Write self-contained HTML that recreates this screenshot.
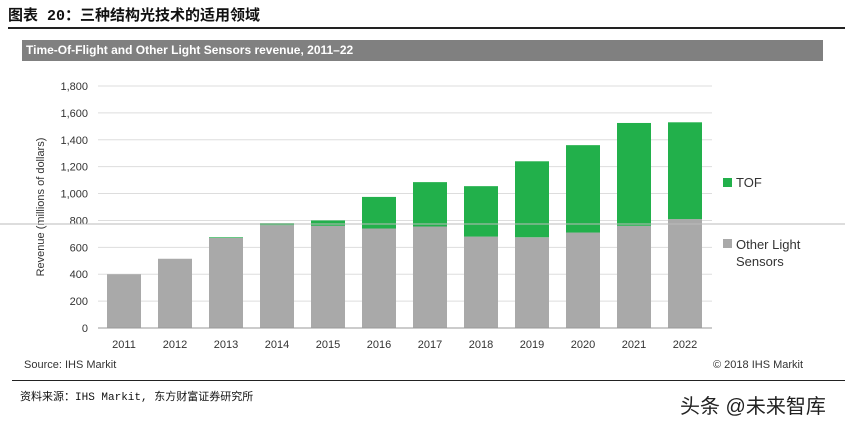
<!DOCTYPE html>
<html><head><meta charset="utf-8"><style>
body{margin:0;width:845px;height:424px;background:#fff;overflow:hidden;position:relative;font-family:"Liberation Sans","Noto Sans CJK SC",sans-serif}
.a{position:absolute}
</style></head><body>
<div class="a" style="left:8px;top:4px;font-size:15px;font-weight:bold;color:#111;font-family:'Liberation Mono','Noto Sans CJK SC',monospace">图表 20：三种结构光技术的适用领域</div>
<div class="a" style="left:8px;top:27px;width:837px;height:2px;background:#222"></div>
<div class="a" style="left:22px;top:40px;width:801px;height:21px;background:#808080;color:#fff;font-size:12px;font-weight:bold;line-height:21px;padding-left:4px;box-sizing:border-box">Time-Of-Flight and Other Light Sensors revenue, 2011–22</div>
<svg class="a" style="left:0;top:0" width="845" height="424">
<g id="g"></g>
</svg>
<div class="a" style="left:24px;top:359px;font-size:11px;color:#333">Source: IHS Markit</div>
<div class="a" style="left:713px;top:359px;font-size:11px;color:#333">© 2018 IHS Markit</div>
<div class="a" style="left:12px;top:380px;width:833px;height:1px;background:#222"></div>
<div class="a" style="left:20px;top:388px;font-size:11px;color:#111;font-family:'Liberation Mono','Noto Sans CJK SC',monospace">资料来源：IHS Markit, 东方财富证券研究所</div>
<div class="a" style="left:680px;top:390px;font-size:20px;color:#222">头条 @未来智库</div>
<script>
const years=["2011","2012","2013","2014","2015","2016","2017","2018","2019","2020","2021","2022"];
const other=[400,515,670,765,760,740,755,680,675,710,760,810];
const tof=[0,0,5,15,40,235,330,375,565,650,765,720];
const ticks=[0,200,400,600,800,1000,1200,1400,1600,1800];
const NS="http://www.w3.org/2000/svg";
const g=document.getElementById('g');
const y=v=>328-v*(242/1800);
const x=i=>124+i*51;
function mk(t,a,txt){const e=document.createElementNS(NS,t);for(const k in a)e.setAttribute(k,a[k]);if(txt!==undefined)e.textContent=txt;g.appendChild(e);return e;}
ticks.forEach(t=>{
 const l=mk('line',{x1:98,x2:712,y1:y(t),y2:y(t),stroke:'#ddd','stroke-width':1});
 
 
 const tx=mk('text',{x:88,y:y(t)+4,'text-anchor':'end','font-size':11,fill:'#333'},t.toLocaleString('en-US'));
 
 
});
const yt=mk('text',{transform:'translate(44,207) rotate(-90)','text-anchor':'middle','font-size':11,fill:'#333'},'Revenue (millions of dollars)');


years.forEach((yr,i)=>{
 const b=mk('rect',{x:x(i)-17,y:y(other[i]),width:34,height:y(0)-y(other[i]),fill:'#a9a9a9'});
 
 
 if(tof[i]>0){const t=mk('rect',{x:x(i)-17,y:y(other[i]+tof[i]),width:34,height:y(other[i])-y(other[i]+tof[i]),fill:'#22b04b'});
 
 }
 const l=mk('text',{x:x(i),y:348,'text-anchor':'middle','font-size':11,fill:'#333'},yr);
 
 
});
const ax=mk('line',{x1:98,x2:712,y1:328,y2:328,stroke:'#999'});


const hl=mk('line',{x1:0,x2:845,y1:224,y2:224,stroke:'#bbb'});


const s1=mk('rect',{x:723,y:178,width:9,height:9,fill:'#22b04b'});


const t1=mk('text',{x:736,y:187,'font-size':13,fill:'#333'},'TOF');


const s2=mk('rect',{x:723,y:239,width:9,height:9,fill:'#a9a9a9'});


const t2=mk('text',{x:736,y:249,'font-size':13,fill:'#333'},'Other Light');


const t3=mk('text',{x:736,y:266,'font-size':13,fill:'#333'},'Sensors');


</script>
</body></html>
